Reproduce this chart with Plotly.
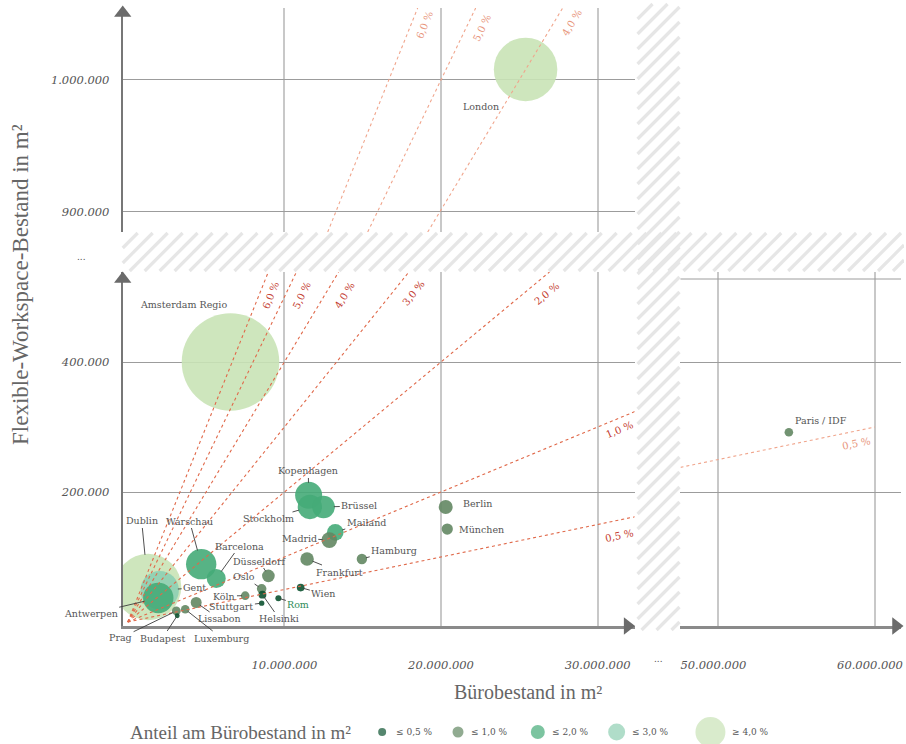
import math
import plotly.graph_objects as go

# ---------------------------------------------------------------- data
CITIES = ["Amsterdam Regio", "London", "Paris / IDF", "Dublin", "Gent", "Antwerpen",
          "Warschau", "Barcelona", "Düsseldorf", "Oslo", "Helsinki", "Köln", "Stuttgart",
          "Rom", "Wien", "Lissabon", "Luxemburg", "Budapest", "Prag", "Kopenhagen",
          "Stockholm", "Brüssel", "Mailand", "Madrid", "Hamburg", "Frankfurt",
          "Berlin", "München"]
# Bürobestand in m²
OFFICE = [6.56e6, 25.4e6, 54.5e6, 1.30e6, 2.04e6, 1.95e6,
          4.69e6, 5.65e6, 8.98e6, 8.55e6, 8.60e6, 7.50e6, 8.55e6,
          9.62e6, 11.04e6, 4.37e6, 3.67e6, 3.16e6, 3.10e6, 11.55e6,
          11.63e6, 12.50e6, 13.25e6, 12.87e6, 14.95e6, 11.45e6,
          20.30e6, 20.40e6]
# Flexible-Workspace-Bestand in m²
FLEX = [400e3, 1008e3, 292e3, 54e3, 49e3, 37e3,
        89e3, 67e3, 71e3, 51e3, 42e3, 40.5e3, 29e3,
        36.5e3, 53e3, 30e3, 19.5e3, 9.7e3, 17e3, 195e3,
        177e3, 177e3, 138e3, 126e3, 97e3, 97e3,
        177e3, 143e3]

SHARE_LINES = [0.5, 1.0, 2.0, 3.0, 4.0, 5.0, 6.0]      # Prozent
UPPER_LINES = [4.0, 5.0, 6.0]
BIN_EDGES = [0.5, 1.0, 2.0, 3.0]
BIN_LABELS = ["≤ 0,5 %", "≤ 1,0 %", "≤ 2,0 %", "≤ 3,0 %", "≥ 4,0 %"]
BIN_COLORS = ["#0d5230", "#638763", "#45ab78", "#8ecfb2", "#c9e3b6"]

X_TICKS_LEFT = [10e6, 20e6, 30e6]
X_TICKS_RIGHT = [50e6, 60e6]
Y_TICKS_LOW = [200e3, 400e3]
Y_TICKS_HIGH = [900e3, 1000e3]

# ---------------------------------------------------------------- geometry (pixel)
W, H = 906, 744
GEOM = {
    "LL": dict(px=(123, 636), py=(626, 272), xr=(-0.32e6, 32.36e6), yr=(-6.15e3, 538.5e3)),
    "UL": dict(px=(123, 636), py=(232, 8), xr=(-0.32e6, 32.36e6), yr=(884.8e3, 1054.5e3)),
    "LR": dict(px=(682, 903), py=(626, 272), xr=(47.58e6, 61.66e6), yr=(-6.15e3, 538.5e3)),
    "UR": dict(px=(682, 903), py=(232, 8), xr=(47.58e6, 61.66e6), yr=(884.8e3, 1054.5e3)),
}
AX = {"LL": ("x", "y"), "UL": ("x2", "y2"), "LR": ("x3", "y3"), "UR": ("x4", "y4")}


def to_px(key, x, y):
    g = GEOM[key]
    px = g["px"][0] + (x - g["xr"][0]) / (g["xr"][1] - g["xr"][0]) * (g["px"][1] - g["px"][0])
    py = g["py"][0] + (y - g["yr"][0]) / (g["yr"][1] - g["yr"][0]) * (g["py"][1] - g["py"][0])
    return px, py


def scale(key):
    g = GEOM[key]
    sx = (g["px"][1] - g["px"][0]) / (g["xr"][1] - g["xr"][0])
    sy = (g["py"][0] - g["py"][1]) / (g["yr"][1] - g["yr"][0])
    return sx, sy


def panel_of(x, y):
    return ("U" if y > 700e3 else "L") + ("R" if x > 40e6 else "L")


def pct(p):
    return f"{p:.1f}".replace(".", ",") + " %"


# label centres (pixel) and whether a leader line is drawn
LABEL_XY = {
    "Amsterdam Regio": (184, 304, False), "London": (482, 106, False),
    "Paris / IDF": (823, 421, False), "Dublin": (142, 521, True), "Gent": (195, 588, True),
    "Antwerpen": (91, 614, True), "Warschau": (190, 521, True), "Barcelona": (240, 546, True),
    "Düsseldorf": (260, 561, True), "Oslo": (245, 577, True), "Helsinki": (280, 619, True),
    "Köln": (225, 596, True), "Stuttgart": (232, 607, True), "Rom": (299, 604, True),
    "Wien": (324, 594, True), "Lissabon": (220, 619, True), "Luxemburg": (222, 638, True),
    "Budapest": (163, 638, True), "Prag": (121, 638, True), "Kopenhagen": (309, 471, True),
    "Stockholm": (269, 519, True), "Brüssel": (360, 506, True), "Mailand": (367, 522, True),
    "Madrid": (300, 538, True), "Hamburg": (395, 550, True), "Frankfurt": (340, 572, True),
    "Berlin": (478, 504, False), "München": (482, 529, False),
}

SERIF = "DejaVu Serif"
TITLE_FONT = "Liberation Serif"
GREY = "#555555"

fig = go.Figure()

# ---------------------------------------------------------------- bubbles
share = [f / o * 100 for f, o in zip(FLEX, OFFICE)]


def bin_of(s):
    for i, e in enumerate(BIN_EDGES):
        if s <= e:
            return i
    return len(BIN_EDGES)


order = sorted(range(len(CITIES)), key=lambda i: -share[i])
for key in GEOM:
    idx = [i for i in order if panel_of(OFFICE[i], FLEX[i]) == key]
    if not idx:
        continue
    xa, ya = AX[key]
    fig.add_scatter(
        x=[OFFICE[i] for i in idx], y=[FLEX[i] for i in idx], xaxis=xa, yaxis=ya,
        mode="markers", showlegend=False,
        marker=dict(size=[16 * share[i] for i in idx],
                    color=[BIN_COLORS[bin_of(share[i])] for i in idx],
                    opacity=0.9, line=dict(width=0)),
        text=[CITIES[i] for i in idx],
        hovertemplate="%{text}<extra></extra>",
    )

# ---------------------------------------------------------------- share lines
LINE_DARK = "#e0694a"
LINE_LIGHT = "#f0a58c"
ymax_low = GEOM["LL"]["yr"][1]
for p in SHARE_LINES:
    f = p / 100
    if p <= 1.0:
        xs = [0, 32.7e6]
    else:
        xs = [0, ymax_low / f]
    fig.add_scatter(x=xs, y=[v * f for v in xs], mode="lines", showlegend=False,
                    hoverinfo="skip", line=dict(color=LINE_DARK, width=1.1, dash="dot"))

# upper panel: continue with the same screen slope as the lower panel
k = scale("UL")[1] / scale("LL")[1]
y_lo, y_hi = GEOM["UL"]["yr"]
for p in UPPER_LINES:
    f = p / 100
    ys = [y_lo, y_hi]
    xs = [(1e6 + (v - 1e6) * k) / f for v in ys]
    fig.add_scatter(x=xs, y=ys, xaxis="x2", yaxis="y2", mode="lines", showlegend=False,
                    hoverinfo="skip", line=dict(color=LINE_LIGHT, width=1.1, dash="dot"))

# right panel 0,5 %
xs = [GEOM["LR"]["xr"][0], 60e6]
fig.add_scatter(x=xs, y=[v * 0.005 for v in xs], xaxis="x3", yaxis="y3", mode="lines",
                showlegend=False, hoverinfo="skip",
                line=dict(color=LINE_LIGHT, width=1.1, dash="dot"))

# ---------------------------------------------------------------- canvas decorations
def hatch(x0, x1, y0, y1, step=15):
    xs, ys = [], []
    c = x0 + y0
    while c < x1 + y1 + step:
        a = max(x0, c - y1)
        b = min(x1, c - y0)
        if a < b:
            xs += [a, b, None]
            ys += [c - a, c - b, None]
        c += step
    return xs, ys


hx, hy = hatch(123, 906, 233, 271)
vx, vy = hatch(639, 681, 4, 630)
fig.add_scatter(x=hx + vx, y=hy + vy, xaxis="x5", yaxis="y5", mode="lines",
                showlegend=False, hoverinfo="skip",
                line=dict(color="#e6e6e6", width=3.2))

# axis arrow heads
fig.add_scatter(x=[123, 123], y=[13, 279], xaxis="x5", yaxis="y5", mode="markers",
                showlegend=False, hoverinfo="skip",
                marker=dict(symbol="triangle-up", size=15, color="#6b6b6b"))
fig.add_scatter(x=[629, 898], y=[626, 626], xaxis="x5", yaxis="y5", mode="markers",
                showlegend=False, hoverinfo="skip",
                marker=dict(symbol="triangle-right", size=15, color="#6b6b6b"))

# legend
LEG_X = [383, 459, 539, 618, 712]
LEG_SIZE = [8, 11, 14, 17, 30]
LEG_TEXT_X = [395, 470, 551, 631, 732]
fig.add_scatter(x=LEG_X, y=[732] * 5, xaxis="x5", yaxis="y5", mode="markers",
                showlegend=False, hoverinfo="skip",
                marker=dict(size=LEG_SIZE, color=BIN_COLORS, line=dict(width=0)))

ann = []
for lbl, tx in zip(BIN_LABELS, LEG_TEXT_X):
    ann.append(dict(x=tx, y=732, xref="x5", yref="y5", text=lbl, showarrow=False,
                    xanchor="left", font=dict(family=SERIF, size=9, color=GREY)))
ann.append(dict(x=128, y=732, xref="x5", yref="y5", text="Anteil am Bürobestand in m²",
                showarrow=False, xanchor="left",
                font=dict(family=TITLE_FONT, size=19, color="#666666")))
ann.append(dict(x=529, y=692, xref="x5", yref="y5", text="Bürobestand in m²",
                showarrow=False, font=dict(family=TITLE_FONT, size=20, color="#666666")))
ann.append(dict(x=20, y=284, xref="x5", yref="y5", text="Flexible-Workspace-Bestand in m²",
                showarrow=False, textangle=-90,
                font=dict(family=TITLE_FONT, size=23, color="#666666")))
for tx, ty in [(82, 257), (660, 659)]:
    ann.append(dict(x=tx, y=ty, xref="x5", yref="y5", text="...", showarrow=False,
                    font=dict(family=SERIF, size=9, color=GREY)))

# share line labels
sxl, syl = scale("LL")
LOW_LABEL_XY = {6.0: (271, 295), 5.0: (302, 295), 4.0: (345, 295), 3.0: (414, 293),
                2.0: (548, 293), 1.0: (621, 429), 0.5: (621, 535)}
UP_LABEL_XY = {6.0: (425, 25), 5.0: (483, 27), 4.0: (573, 22)}
for p in SHARE_LINES:
    ang = -math.degrees(math.atan(p / 100 * syl / sxl))
    lx, ly = LOW_LABEL_XY[p]
    ann.append(dict(x=lx, y=ly, xref="x5", yref="y5", text=pct(p), showarrow=False,
                    textangle=ang, font=dict(family=SERIF, size=10, color="#c43c30")))
    if p in UP_LABEL_XY:
        lx, ly = UP_LABEL_XY[p]
        ann.append(dict(x=lx, y=ly, xref="x5", yref="y5", text=pct(p), showarrow=False,
                        textangle=ang, font=dict(family=SERIF, size=10, color="#e8957c")))
ang = -math.degrees(math.atan(0.005 * syl / sxl))
ann.append(dict(x=858, y=443, xref="x5", yref="y5", text=pct(0.5), showarrow=False,
                textangle=ang, font=dict(family=SERIF, size=10, color="#e8957c")))

# city labels
for i, c in enumerate(CITIES):
    key = panel_of(OFFICE[i], FLEX[i])
    xa, ya = AX[key]
    px, py = to_px(key, OFFICE[i], FLEX[i])
    lx, ly, lead = LABEL_XY[c]
    col = "#2e8b57" if c == "Rom" else GREY
    base = dict(x=OFFICE[i], y=FLEX[i], xref=xa, yref=ya, text=c,
                font=dict(family=SERIF, size=9.5, color=col))
    if lead:
        base.update(showarrow=True, ax=lx - px, ay=ly - py, arrowhead=0,
                    arrowwidth=0.9, arrowcolor="#3c3c3c", standoff=8 * share[i] - 1)
    else:
        base.update(showarrow=False, xshift=lx - px, yshift=py - ly)
    ann.append(base)

# ---------------------------------------------------------------- axes
def dom_x(key):
    g = GEOM[key]
    return [g["px"][0] / W, g["px"][1] / W]


def dom_y(key):
    g = GEOM[key]
    return [1 - g["py"][0] / H, 1 - g["py"][1] / H]


TICKFONT = dict(family=SERIF, size=11.5, color=GREY, style="italic")
XGRID = dict(showgrid=True, gridcolor="#c8c8c8", gridwidth=2, zeroline=False,
             ticks="", fixedrange=True)
YGRID = dict(showgrid=True, gridcolor="#9c9c9c", gridwidth=1, zeroline=False,
             ticks="", fixedrange=True)

fig.update_layout(
    width=W, height=H, margin=dict(l=0, r=0, t=0, b=0),
    paper_bgcolor="white", plot_bgcolor="rgba(0,0,0,0)",
    separators=",.", showlegend=False, annotations=ann,
    xaxis=dict(domain=dom_x("LL"), range=GEOM["LL"]["xr"], anchor="y",
               tickvals=X_TICKS_LEFT, tickformat=",d", tickfont=TICKFONT,
               ticklabelstandoff=26, showline=True, linecolor="#8a8a8a", linewidth=3,
               **XGRID),
    yaxis=dict(domain=dom_y("LL"), range=GEOM["LL"]["yr"], anchor="x",
               tickvals=Y_TICKS_LOW, tickformat=",d", tickfont=TICKFONT,
               ticklabelstandoff=9, showline=True, linecolor="#777777", linewidth=2,
               **YGRID),
    xaxis2=dict(domain=dom_x("UL"), range=GEOM["UL"]["xr"], anchor="y2",
                tickvals=X_TICKS_LEFT, showticklabels=False, showline=False, **XGRID),
    yaxis2=dict(domain=dom_y("UL"), range=GEOM["UL"]["yr"], anchor="x2",
                tickvals=Y_TICKS_HIGH, tickformat=",d", tickfont=TICKFONT,
                ticklabelstandoff=9, showline=True, linecolor="#777777", linewidth=2,
                **YGRID),
    xaxis3=dict(domain=dom_x("LR"), range=GEOM["LR"]["xr"], anchor="y3",
                tickvals=X_TICKS_RIGHT, tickformat=",d", tickfont=TICKFONT,
                ticklabelstandoff=26, ticklabelshift=-5, ticklabeloverflow="allow",
                showline=True, linecolor="#8a8a8a", linewidth=3, **XGRID),
    yaxis3=dict(domain=dom_y("LR"), range=GEOM["LR"]["yr"], anchor="x3",
                tickvals=Y_TICKS_LOW, showticklabels=False, showline=False, **YGRID),
    xaxis4=dict(domain=dom_x("UR"), range=GEOM["UR"]["xr"], anchor="y4",
                tickvals=X_TICKS_RIGHT, showticklabels=False, showline=False, **XGRID),
    yaxis4=dict(domain=dom_y("UR"), range=GEOM["UR"]["yr"], anchor="x4",
                tickvals=Y_TICKS_HIGH, showticklabels=False, showline=False, **YGRID),
    xaxis5=dict(domain=[0, 1], range=[0, W], anchor="y5", visible=False, fixedrange=True),
    yaxis5=dict(domain=[0, 1], range=[H, 0], anchor="x5", visible=False, fixedrange=True),
)

# thin top border of the lower right panel
fig.add_shape(type="line", xref="x3 domain", yref="paper", x0=0, x1=1,
              y0=1 - 279 / H, y1=1 - 279 / H, line=dict(color="#9c9c9c", width=1))

# the page's default body margin would shift the fixed-size figure by 8 px
fig.write_html("out.html", config={"displayModeBar": False},
               post_script="document.body.style.margin='0px';")
